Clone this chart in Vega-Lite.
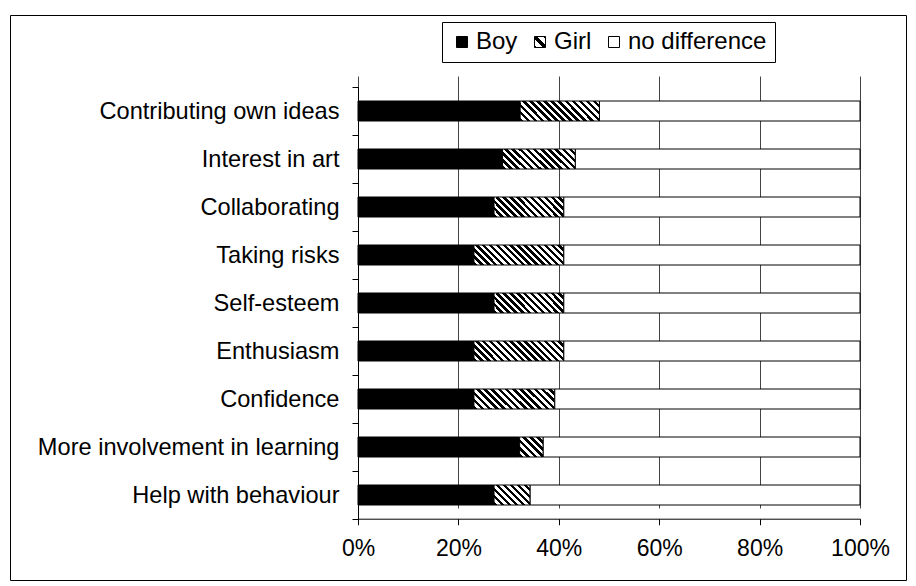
{
  "$schema": "https://vega.github.io/schema/vega-lite/v6.json",
  "width": 896,
  "height": 565,
  "autosize": {"type": "none"},
  "padding": {"left": 10, "top": 15, "right": 10, "bottom": 6},
  "background": "white",
  "config": {
    "view": {"stroke": "black", "strokeWidth": 1},
    "font": "Liberation Sans",
    "axis": {"labelFont": "Liberation Sans", "labelColor": "black", "domainColor": "black", "tickColor": "black", "domainWidth": 1, "tickWidth": 1},
    "legend": {"labelFont": "Liberation Sans", "labelColor": "black"}
  },
  "data": {
    "values": [
      {"cat": "Contributing own ideas", "series": "Boy", "value": 32.3},
      {"cat": "Contributing own ideas", "series": "Girl", "value": 15.8},
      {"cat": "Contributing own ideas", "series": "no difference", "value": 51.9},
      {"cat": "Interest in art", "series": "Boy", "value": 28.8},
      {"cat": "Interest in art", "series": "Girl", "value": 14.5},
      {"cat": "Interest in art", "series": "no difference", "value": 56.7},
      {"cat": "Collaborating", "series": "Boy", "value": 27.1},
      {"cat": "Collaborating", "series": "Girl", "value": 13.9},
      {"cat": "Collaborating", "series": "no difference", "value": 59.0},
      {"cat": "Taking risks", "series": "Boy", "value": 23.1},
      {"cat": "Taking risks", "series": "Girl", "value": 17.9},
      {"cat": "Taking risks", "series": "no difference", "value": 59.0},
      {"cat": "Self-esteem", "series": "Boy", "value": 27.1},
      {"cat": "Self-esteem", "series": "Girl", "value": 13.9},
      {"cat": "Self-esteem", "series": "no difference", "value": 59.0},
      {"cat": "Enthusiasm", "series": "Boy", "value": 23.1},
      {"cat": "Enthusiasm", "series": "Girl", "value": 17.9},
      {"cat": "Enthusiasm", "series": "no difference", "value": 59.0},
      {"cat": "Confidence", "series": "Boy", "value": 23.1},
      {"cat": "Confidence", "series": "Girl", "value": 16.1},
      {"cat": "Confidence", "series": "no difference", "value": 60.8},
      {"cat": "More involvement in learning", "series": "Boy", "value": 32.2},
      {"cat": "More involvement in learning", "series": "Girl", "value": 4.7},
      {"cat": "More involvement in learning", "series": "no difference", "value": 63.1},
      {"cat": "Help with behaviour", "series": "Boy", "value": 27.1},
      {"cat": "Help with behaviour", "series": "Girl", "value": 7.2},
      {"cat": "Help with behaviour", "series": "no difference", "value": 65.7}
    ]
  },
  "transform": [
    {"stack": "value", "groupby": ["cat"], "sort": [{"field": "series", "order": "ascending"}], "offset": "normalize", "as": ["x0", "x1"]}
  ],
  "mark": {"type": "bar", "size": 20, "stroke": "black", "strokeWidth": 1},
  "encoding": {
    "y": {
      "field": "cat", "type": "nominal",
      "sort": ["Contributing own ideas", "Interest in art", "Collaborating", "Taking risks", "Self-esteem", "Enthusiasm", "Confidence", "More involvement in learning", "Help with behaviour"],
      "scale": {"range": [72, 504], "paddingInner": 0, "paddingOuter": 0},
      "axis": {"title": null, "offset": -348, "tickBand": "extent", "tickSize": 6, "labelFontSize": 23.6, "labelPadding": 13, "labelLimit": 400, "grid": false}
    },
    "x": {
      "field": "x0", "type": "quantitative",
      "scale": {"domain": [0, 1], "range": [348, 850], "nice": false},
      "axis": {"title": null, "offset": -61.3, "format": "%", "values": [0, 0.2, 0.4, 0.6, 0.8, 1], "grid": true, "gridColor": "#444444", "gridWidth": 1, "tickSize": 6, "labelFontSize": 23, "labelPadding": 13, "labelFlush": false, "labelOverlap": false}
    },
    "x2": {"field": "x1"},
    "fill": {
      "condition": [
        {"test": "datum.series === 'Girl' && (datum.cat === 'Contributing own ideas' || datum.cat === 'Confidence')",
         "value": {"gradient": "linear", "x1": 0, "y1": 1, "x2": 1.1765, "y2": 0.7059, "stops": [
          {"offset":0,"color":"#000"},{"offset":0.0357,"color":"#000"},{"offset":0.0357,"color":"#fff"},{"offset":0.0714,"color":"#fff"},
          {"offset":0.0714,"color":"#000"},{"offset":0.1071,"color":"#000"},{"offset":0.1071,"color":"#fff"},{"offset":0.1429,"color":"#fff"},
          {"offset":0.1429,"color":"#000"},{"offset":0.1786,"color":"#000"},{"offset":0.1786,"color":"#fff"},{"offset":0.2143,"color":"#fff"},
          {"offset":0.2143,"color":"#000"},{"offset":0.25,"color":"#000"},{"offset":0.25,"color":"#fff"},{"offset":0.2857,"color":"#fff"},
          {"offset":0.2857,"color":"#000"},{"offset":0.3214,"color":"#000"},{"offset":0.3214,"color":"#fff"},{"offset":0.3571,"color":"#fff"},
          {"offset":0.3571,"color":"#000"},{"offset":0.3929,"color":"#000"},{"offset":0.3929,"color":"#fff"},{"offset":0.4286,"color":"#fff"},
          {"offset":0.4286,"color":"#000"},{"offset":0.4643,"color":"#000"},{"offset":0.4643,"color":"#fff"},{"offset":0.5,"color":"#fff"},
          {"offset":0.5,"color":"#000"},{"offset":0.5357,"color":"#000"},{"offset":0.5357,"color":"#fff"},{"offset":0.5714,"color":"#fff"},
          {"offset":0.5714,"color":"#000"},{"offset":0.6071,"color":"#000"},{"offset":0.6071,"color":"#fff"},{"offset":0.6429,"color":"#fff"},
          {"offset":0.6429,"color":"#000"},{"offset":0.6786,"color":"#000"},{"offset":0.6786,"color":"#fff"},{"offset":0.7143,"color":"#fff"},
          {"offset":0.7143,"color":"#000"},{"offset":0.75,"color":"#000"},{"offset":0.75,"color":"#fff"},{"offset":0.7857,"color":"#fff"},
          {"offset":0.7857,"color":"#000"},{"offset":0.8214,"color":"#000"},{"offset":0.8214,"color":"#fff"},{"offset":0.8571,"color":"#fff"},
          {"offset":0.8571,"color":"#000"},{"offset":0.8929,"color":"#000"},{"offset":0.8929,"color":"#fff"},{"offset":0.9286,"color":"#fff"},
          {"offset":0.9286,"color":"#000"},{"offset":0.9643,"color":"#000"},{"offset":0.9643,"color":"#fff"},{"offset":1,"color":"#fff"}]}},
        {"test": "datum.series === 'Girl' && (datum.cat === 'Interest in art' || datum.cat === 'Collaborating' || datum.cat === 'Self-esteem')",
         "value": {"gradient": "linear", "x1": 0, "y1": 1, "x2": 1.1874, "y2": 0.6655, "stops": [
          {"offset":0,"color":"#000"},{"offset":0.0385,"color":"#000"},{"offset":0.0385,"color":"#fff"},{"offset":0.0769,"color":"#fff"},
          {"offset":0.0769,"color":"#000"},{"offset":0.1154,"color":"#000"},{"offset":0.1154,"color":"#fff"},{"offset":0.1538,"color":"#fff"},
          {"offset":0.1538,"color":"#000"},{"offset":0.1923,"color":"#000"},{"offset":0.1923,"color":"#fff"},{"offset":0.2308,"color":"#fff"},
          {"offset":0.2308,"color":"#000"},{"offset":0.2692,"color":"#000"},{"offset":0.2692,"color":"#fff"},{"offset":0.3077,"color":"#fff"},
          {"offset":0.3077,"color":"#000"},{"offset":0.3462,"color":"#000"},{"offset":0.3462,"color":"#fff"},{"offset":0.3846,"color":"#fff"},
          {"offset":0.3846,"color":"#000"},{"offset":0.4231,"color":"#000"},{"offset":0.4231,"color":"#fff"},{"offset":0.4615,"color":"#fff"},
          {"offset":0.4615,"color":"#000"},{"offset":0.5,"color":"#000"},{"offset":0.5,"color":"#fff"},{"offset":0.5385,"color":"#fff"},
          {"offset":0.5385,"color":"#000"},{"offset":0.5769,"color":"#000"},{"offset":0.5769,"color":"#fff"},{"offset":0.6154,"color":"#fff"},
          {"offset":0.6154,"color":"#000"},{"offset":0.6538,"color":"#000"},{"offset":0.6538,"color":"#fff"},{"offset":0.6923,"color":"#fff"},
          {"offset":0.6923,"color":"#000"},{"offset":0.7308,"color":"#000"},{"offset":0.7308,"color":"#fff"},{"offset":0.7692,"color":"#fff"},
          {"offset":0.7692,"color":"#000"},{"offset":0.8077,"color":"#000"},{"offset":0.8077,"color":"#fff"},{"offset":0.8462,"color":"#fff"},
          {"offset":0.8462,"color":"#000"},{"offset":0.8846,"color":"#000"},{"offset":0.8846,"color":"#fff"},{"offset":0.9231,"color":"#fff"},
          {"offset":0.9231,"color":"#000"},{"offset":0.9615,"color":"#000"},{"offset":0.9615,"color":"#fff"},{"offset":1,"color":"#fff"}]}},
        {"test": "datum.series === 'Girl' && (datum.cat === 'Taking risks' || datum.cat === 'Enthusiasm')",
         "value": {"gradient": "linear", "x1": 0, "y1": 1, "x2": 1.1647, "y2": 0.7412, "stops": [
          {"offset":0,"color":"#000"},{"offset":0.0313,"color":"#000"},{"offset":0.0313,"color":"#fff"},{"offset":0.0625,"color":"#fff"},
          {"offset":0.0625,"color":"#000"},{"offset":0.0938,"color":"#000"},{"offset":0.0938,"color":"#fff"},{"offset":0.125,"color":"#fff"},
          {"offset":0.125,"color":"#000"},{"offset":0.1563,"color":"#000"},{"offset":0.1563,"color":"#fff"},{"offset":0.1875,"color":"#fff"},
          {"offset":0.1875,"color":"#000"},{"offset":0.2188,"color":"#000"},{"offset":0.2188,"color":"#fff"},{"offset":0.25,"color":"#fff"},
          {"offset":0.25,"color":"#000"},{"offset":0.2813,"color":"#000"},{"offset":0.2813,"color":"#fff"},{"offset":0.3125,"color":"#fff"},
          {"offset":0.3125,"color":"#000"},{"offset":0.3438,"color":"#000"},{"offset":0.3438,"color":"#fff"},{"offset":0.375,"color":"#fff"},
          {"offset":0.375,"color":"#000"},{"offset":0.4063,"color":"#000"},{"offset":0.4063,"color":"#fff"},{"offset":0.4375,"color":"#fff"},
          {"offset":0.4375,"color":"#000"},{"offset":0.4688,"color":"#000"},{"offset":0.4688,"color":"#fff"},{"offset":0.5,"color":"#fff"},
          {"offset":0.5,"color":"#000"},{"offset":0.5313,"color":"#000"},{"offset":0.5313,"color":"#fff"},{"offset":0.5625,"color":"#fff"},
          {"offset":0.5625,"color":"#000"},{"offset":0.5938,"color":"#000"},{"offset":0.5938,"color":"#fff"},{"offset":0.625,"color":"#fff"},
          {"offset":0.625,"color":"#000"},{"offset":0.6563,"color":"#000"},{"offset":0.6563,"color":"#fff"},{"offset":0.6875,"color":"#fff"},
          {"offset":0.6875,"color":"#000"},{"offset":0.7188,"color":"#000"},{"offset":0.7188,"color":"#fff"},{"offset":0.75,"color":"#fff"},
          {"offset":0.75,"color":"#000"},{"offset":0.7813,"color":"#000"},{"offset":0.7813,"color":"#fff"},{"offset":0.8125,"color":"#fff"},
          {"offset":0.8125,"color":"#000"},{"offset":0.8438,"color":"#000"},{"offset":0.8438,"color":"#fff"},{"offset":0.875,"color":"#fff"},
          {"offset":0.875,"color":"#000"},{"offset":0.9063,"color":"#000"},{"offset":0.9063,"color":"#fff"},{"offset":0.9375,"color":"#fff"},
          {"offset":0.9375,"color":"#000"},{"offset":0.9688,"color":"#000"},{"offset":0.9688,"color":"#fff"},{"offset":1,"color":"#fff"}]}},
        {"test": "datum.series === 'Girl' && datum.cat === 'More involvement in learning'",
         "value": {"gradient": "linear", "x1": 0, "y1": 1, "x2": 1.0752, "y2": 0.0888, "stops": [
          {"offset":0,"color":"#000"},{"offset":0.0833,"color":"#000"},{"offset":0.0833,"color":"#fff"},{"offset":0.1667,"color":"#fff"},
          {"offset":0.1667,"color":"#000"},{"offset":0.25,"color":"#000"},{"offset":0.25,"color":"#fff"},{"offset":0.3333,"color":"#fff"},
          {"offset":0.3333,"color":"#000"},{"offset":0.4167,"color":"#000"},{"offset":0.4167,"color":"#fff"},{"offset":0.5,"color":"#fff"},
          {"offset":0.5,"color":"#000"},{"offset":0.5833,"color":"#000"},{"offset":0.5833,"color":"#fff"},{"offset":0.6667,"color":"#fff"},
          {"offset":0.6667,"color":"#000"},{"offset":0.75,"color":"#000"},{"offset":0.75,"color":"#fff"},{"offset":0.8333,"color":"#fff"},
          {"offset":0.8333,"color":"#000"},{"offset":0.9167,"color":"#000"},{"offset":0.9167,"color":"#fff"},{"offset":1,"color":"#fff"}]}},
        {"test": "datum.series === 'Girl' && datum.cat === 'Help with behaviour'",
         "value": {"gradient": "linear", "x1": 0, "y1": 1, "x2": 1.1891, "y2": 0.3412, "stops": [
          {"offset":0,"color":"#000"},{"offset":0.0625,"color":"#000"},{"offset":0.0625,"color":"#fff"},{"offset":0.125,"color":"#fff"},
          {"offset":0.125,"color":"#000"},{"offset":0.1875,"color":"#000"},{"offset":0.1875,"color":"#fff"},{"offset":0.25,"color":"#fff"},
          {"offset":0.25,"color":"#000"},{"offset":0.3125,"color":"#000"},{"offset":0.3125,"color":"#fff"},{"offset":0.375,"color":"#fff"},
          {"offset":0.375,"color":"#000"},{"offset":0.4375,"color":"#000"},{"offset":0.4375,"color":"#fff"},{"offset":0.5,"color":"#fff"},
          {"offset":0.5,"color":"#000"},{"offset":0.5625,"color":"#000"},{"offset":0.5625,"color":"#fff"},{"offset":0.625,"color":"#fff"},
          {"offset":0.625,"color":"#000"},{"offset":0.6875,"color":"#000"},{"offset":0.6875,"color":"#fff"},{"offset":0.75,"color":"#fff"},
          {"offset":0.75,"color":"#000"},{"offset":0.8125,"color":"#000"},{"offset":0.8125,"color":"#fff"},{"offset":0.875,"color":"#fff"},
          {"offset":0.875,"color":"#000"},{"offset":0.9375,"color":"#000"},{"offset":0.9375,"color":"#fff"},{"offset":1,"color":"#fff"}]}}
      ],
      "field": "series", "type": "nominal",
      "scale": {
        "domain": ["Boy", "Girl", "no difference"],
        "range": ["#000000", {"expr": "{gradient: 'linear', x1: 0, y1: 1, x2: 1, y2: 0, stops: [{offset: 0, color: '#000'}, {offset: 0.12, color: '#000'}, {offset: 0.12, color: '#fff'}, {offset: 0.38, color: '#fff'}, {offset: 0.38, color: '#000'}, {offset: 0.62, color: '#000'}, {offset: 0.62, color: '#fff'}, {offset: 0.88, color: '#fff'}, {offset: 0.88, color: '#000'}, {offset: 1, color: '#000'}]}"}, "#ffffff"]
      },
      "legend": {
        "title": null, "orient": "none", "legendX": 432, "legendY": 7, "direction": "horizontal",
        "strokeColor": "black", "padding": 8, "symbolType": "square", "symbolSize": 121,
        "symbolStrokeColor": "black", "symbolStrokeWidth": 1, "labelFontSize": 24, "labelOffset": 2, "columnPadding": 10
      }
    }
  }
}
